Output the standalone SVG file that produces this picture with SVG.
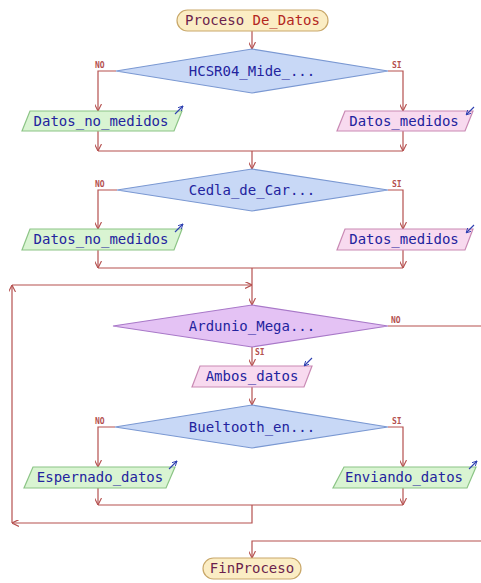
<svg xmlns="http://www.w3.org/2000/svg" width="481" height="583" viewBox="0 0 481 583">
  <style>
    .conn { fill: none; stroke: #b5504f; stroke-width: 1.2; }
    .term { fill: #fbedc4; stroke: #c9a86a; stroke-width: 1.2; }
    .dec { fill: #c8d8f6; stroke: #7a98d2; stroke-width: 1.2; }
    .dec2 { fill: #e4c2f4; stroke: #a878c8; stroke-width: 1.2; }
    .out { fill: #d9f4d2; stroke: #8cc486; stroke-width: 1.2; }
    .inp { fill: #f8daef; stroke: #c98ab4; stroke-width: 1.2; }
    .txt { font-family: "DejaVu Sans Mono", "Liberation Mono", monospace; font-size: 14px; fill: #23239e; text-anchor: middle; }
    .ttxt { font-family: "DejaVu Sans Mono", "Liberation Mono", monospace; font-size: 14px; fill: #6b1f4d; text-anchor: middle; }
    .lbl { font-family: "DejaVu Sans Mono", "Liberation Mono", monospace; font-size: 8px; font-weight: bold; fill: #b5504f; }
    .icon { fill: none; stroke: #2d3fb0; stroke-width: 1.1; }
  </style>
  <defs>
    <marker id="arr" viewBox="0 0 10 10" refX="10" refY="5" markerWidth="7" markerHeight="7" markerUnits="userSpaceOnUse" orient="auto">
      <path d="M0,0 L10,5 L0,10" fill="none" stroke="#b5504f" stroke-width="1.6"/>
    </marker>
    <marker id="iarr" viewBox="0 0 10 10" refX="10" refY="5" markerWidth="5" markerHeight="5" markerUnits="userSpaceOnUse" orient="auto">
      <path d="M0,0 L10,5 L0,10" fill="none" stroke="#2d3fb0" stroke-width="1.8"/>
    </marker>
  </defs>

  <!-- connectors -->
  <g id="connectors">
    <path class="conn" d="M252,31 V49" marker-end="url(#arr)"/>
    <path class="conn" d="M116,71 H98 V111" marker-end="url(#arr)"/>
    <path class="conn" d="M388,71 H403 V111" marker-end="url(#arr)"/>
    <path class="conn" d="M98,131 V151" marker-end="url(#arr)"/>
    <path class="conn" d="M403,131 V151" marker-end="url(#arr)"/>
    <path class="conn" d="M98,151 H403"/>
    <path class="conn" d="M252,151 V169" marker-end="url(#arr)"/>

    <path class="conn" d="M117,190 H98 V229" marker-end="url(#arr)"/>
    <path class="conn" d="M388,190 H403 V229" marker-end="url(#arr)"/>
    <path class="conn" d="M98,250 V268" marker-end="url(#arr)"/>
    <path class="conn" d="M403,250 V268" marker-end="url(#arr)"/>
    <path class="conn" d="M98,268 H403"/>
    <path class="conn" d="M252,268 V305" marker-end="url(#arr)"/>

    <path class="conn" d="M12,285 H252" marker-end="url(#arr)"/>
    <path class="conn" d="M12,523 V285" marker-end="url(#arr)"/>
    <path class="conn" d="M252,505 V523 H12" marker-end="url(#arr)"/>

    <path class="conn" d="M388,326 H481"/>
    <path class="conn" d="M252,347 V366" marker-end="url(#arr)"/>
    <path class="conn" d="M252,387 V405" marker-end="url(#arr)"/>

    <path class="conn" d="M115,427 H98 V467" marker-end="url(#arr)"/>
    <path class="conn" d="M388,427 H403 V467" marker-end="url(#arr)"/>
    <path class="conn" d="M98,488 V505" marker-end="url(#arr)"/>
    <path class="conn" d="M403,488 V505" marker-end="url(#arr)"/>
    <path class="conn" d="M98,505 H403"/>

    <path class="conn" d="M481,541 H252 V558" marker-end="url(#arr)"/>

    <text class="lbl" x="95" y="68">NO</text>
    <text class="lbl" x="392" y="68">SI</text>
    <text class="lbl" x="95" y="187">NO</text>
    <text class="lbl" x="392" y="187">SI</text>
    <text class="lbl" x="391" y="323">NO</text>
    <text class="lbl" x="255" y="355">SI</text>
    <text class="lbl" x="95" y="424">NO</text>
    <text class="lbl" x="392" y="424">SI</text>
  </g>

  <!-- start -->
  <g id="inicio">
    <rect class="term" x="177" y="10" width="151" height="21" rx="10.5"/>
    <text class="ttxt" x="252.5" y="25">Proceso <tspan fill="#b3261e">De_Datos</tspan></text>
  </g>

  <!-- first sensor decision -->
  <g id="decision_hcsr04">
    <polygon class="dec" points="252,49 388,71 252,93 116,71"/>
    <text class="txt" x="252" y="76">HCSR04_Mide_...</text>
  </g>
  <g id="salida_no_medidos_1">
    <polygon class="out" points="30,111 182,111 174,131 22,131"/>
    <text class="txt" x="101" y="126">Datos_no_medidos</text>
    <path class="icon" d="M175,114 L183,106" marker-end="url(#iarr)"/>
  </g>
  <g id="entrada_medidos_1">
    <polygon class="inp" points="345,111 473,111 465,131 337,131"/>
    <text class="txt" x="404" y="126">Datos_medidos</text>
    <path class="icon" d="M474,107 L466,115" marker-end="url(#iarr)"/>
  </g>

  <!-- second sensor decision -->
  <g id="decision_celda">
    <polygon class="dec" points="252,169 388,190 252,211 117,190"/>
    <text class="txt" x="252" y="195">Cedla_de_Car...</text>
  </g>
  <g id="salida_no_medidos_2">
    <polygon class="out" points="30,229 182,229 174,250 22,250"/>
    <text class="txt" x="101" y="244">Datos_no_medidos</text>
    <path class="icon" d="M175,232 L183,224" marker-end="url(#iarr)"/>
  </g>
  <g id="entrada_medidos_2">
    <polygon class="inp" points="345,229 473,229 465,250 337,250"/>
    <text class="txt" x="404" y="244">Datos_medidos</text>
    <path class="icon" d="M474,225 L466,233" marker-end="url(#iarr)"/>
  </g>

  <!-- controller decision -->
  <g id="decision_arduino">
    <polygon class="dec2" points="252,305 388,326 252,347 113,326"/>
    <text class="txt" x="252" y="331">Ardunio_Mega...</text>
  </g>
  <g id="entrada_ambos">
    <polygon class="inp" points="200,366 312,366 304,387 192,387"/>
    <text class="txt" x="252" y="381">Ambos_datos</text>
    <path class="icon" d="M312,358 L304,366" marker-end="url(#iarr)"/>
  </g>

  <!-- bluetooth decision -->
  <g id="decision_bluetooth">
    <polygon class="dec" points="252,405 388,427 252,448 115,427"/>
    <text class="txt" x="252" y="432">Bueltooth_en...</text>
  </g>
  <g id="salida_esperando">
    <polygon class="out" points="33,467 175,467 166,488 24,488"/>
    <text class="txt" x="100" y="482">Espernado_datos</text>
    <path class="icon" d="M169,469 L177,461" marker-end="url(#iarr)"/>
  </g>
  <g id="salida_enviando">
    <polygon class="out" points="344,467 476,467 467,488 333,488"/>
    <text class="txt" x="404" y="482">Enviando_datos</text>
    <path class="icon" d="M469,469 L477,461" marker-end="url(#iarr)"/>
  </g>

  <!-- end -->
  <g id="fin">
    <rect class="term" x="203" y="558" width="98" height="21" rx="10.5"/>
    <text class="ttxt" x="252" y="573">FinProceso</text>
  </g>
</svg>
